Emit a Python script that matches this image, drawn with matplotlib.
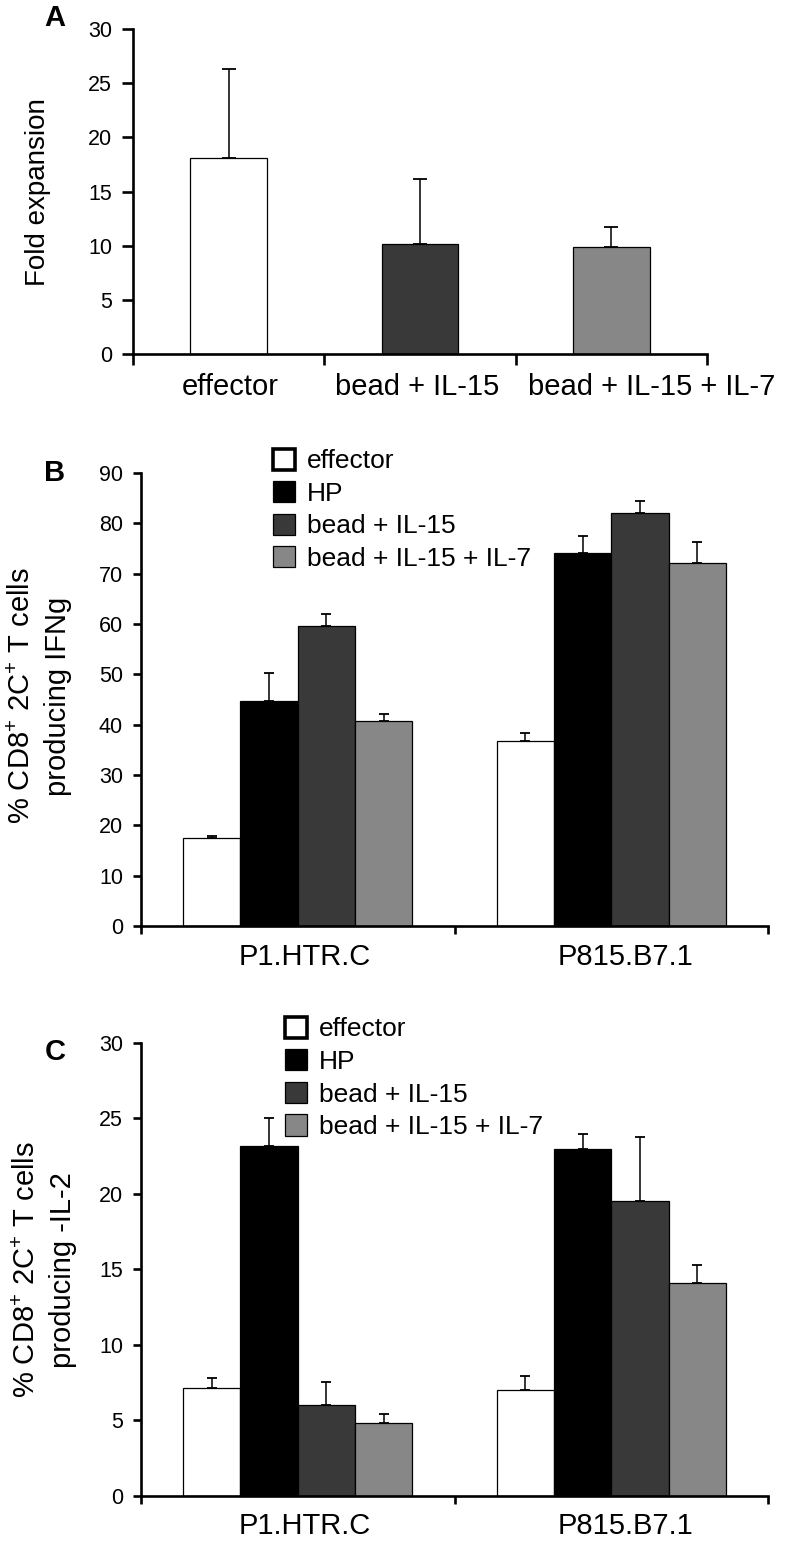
import matplotlib
matplotlib.use("Agg")
import matplotlib.pyplot as plt
import numpy as np

plt.rcParams['font.family'] = ['Liberation Sans', 'DejaVu Sans']
plt.rcParams['mathtext.fontset'] = 'custom'
plt.rcParams['mathtext.rm'] = 'Liberation Sans'
plt.rcParams['mathtext.it'] = 'Liberation Sans:italic'
plt.rcParams['mathtext.bf'] = 'Liberation Sans:bold'

# === DATA ===
fold_groups = ["effector", "bead + IL-15", "bead + IL-15 + IL-7"]
fold_mean = [18.1, 10.2, 9.9]
fold_err = [8.2, 6.0, 1.8]

targets = ["P1.HTR.C", "P815.B7.1"]
conditions = ["effector", "HP", "bead + IL-15", "bead + IL-15 + IL-7"]

# rows = conditions, columns = targets
ifng_mean = [[17.5, 36.8], [44.8, 74.1], [59.7, 82.0], [40.7, 72.2]]
ifng_err = [[0.4, 1.6], [5.5, 3.4], [2.2, 2.5], [1.4, 4.1]]

il2_mean = [[7.1, 7.0], [23.2, 23.0], [6.0, 19.5], [4.8, 14.1]]
il2_err = [[0.7, 0.9], [1.8, 1.0], [1.5, 4.3], [0.6, 1.2]]

# === STYLE ===
COLORS = ["white", "black", "#393939", "#878787"]
W, H = 786, 1542
SPINE_W = 1.9

fig = plt.figure(figsize=(W / 100, H / 100), dpi=100)


def axes_px(left, top, right, bottom):
  return fig.add_axes([left / W, 1 - bottom / H, (right - left) / W, (bottom - top) / H])


def style_axes(ax, ncat, labels, label_pos, tick_len, label_pad):
  for s in ["top", "right"]:
    ax.spines[s].set_visible(False)
  for s in ["left", "bottom"]:
    ax.spines[s].set_linewidth(SPINE_W)
  ax.set_xlim(0, ncat)
  ax.set_xticks(np.arange(ncat + 1))
  ax.set_xticklabels([])
  # category names sit on invisible minor ticks (the source centres them a bit loosely)
  ax.set_xticks(label_pos, minor=True)
  ax.set_xticklabels(labels, minor=True, fontsize=21)
  ax.tick_params(axis="both", which="major", direction="out", length=tick_len,
                 width=SPINE_W, labelsize=15.5, pad=7)
  ax.tick_params(axis="x", which="minor", length=0, pad=label_pad)


# === PANEL A ===
axA = axes_px(133, 29, 707, 354)
xa = np.arange(len(fold_groups)) + 0.5
axA.bar(xa, fold_mean, width=0.4, color=[COLORS[0], COLORS[2], COLORS[3]],
        edgecolor="black", linewidth=0.9, zorder=2)
axA.errorbar(xa, fold_mean, yerr=[np.zeros(len(fold_mean)), fold_err], fmt="none",
             ecolor="black", elinewidth=1.1, capsize=5, capthick=1.3, zorder=3)
axA.set_ylim(0, 30)
axA.set_yticks(np.arange(0, 31, 5))
style_axes(axA, len(fold_groups), fold_groups, [0.507, 1.484, 2.71], 8, 14)
fig.text(38 / W, 1 - 192 / H, "Fold expansion", rotation=90, fontsize=20,
         ha="center", va="center")


# === PANELS B, C ===
def grouped_panel(ax, means, errs, ymax, ystep, legend_xy):
  bw = 0.183
  base = np.arange(len(targets)) + 0.5
  bars = []
  for i, cond in enumerate(conditions):
    pos = base + (i - 1.5) * bw
    b = ax.bar(pos, means[i], width=bw, color=COLORS[i], edgecolor="black",
               linewidth=0.9, label=cond, zorder=2)
    ax.errorbar(pos, means[i], yerr=[np.zeros(len(targets)), errs[i]], fmt="none",
                ecolor="black", elinewidth=1.1, capsize=3.5, capthick=1.3, zorder=3)
    bars.append(b)
  ax.set_ylim(0, ymax)
  ax.set_yticks(np.arange(0, ymax + 1, ystep))
  style_axes(ax, len(targets), targets, [0.523, 1.547], 6, 12)
  leg = ax.legend(handles=bars, loc="upper left", bbox_to_anchor=legend_xy,
                  frameon=False, fontsize=19, handlelength=0.85, handleheight=0.85,
                  handletextpad=0.45, labelspacing=0.3, borderpad=0, borderaxespad=0)
  leg.get_patches()[0].set_linewidth(2.6)
  return ax


axB = axes_px(141, 473, 768, 926)
grouped_panel(axB, ifng_mean, ifng_err, 90, 10, (0.2105, 1.054))
fig.text(40 / W, 1 - 696 / H, "% CD8$^{+}$ 2C$^{+}$ T cells\nproducing IFNg",
         rotation=90, fontsize=21, ha="center", va="center", linespacing=1.35)

axC = axes_px(141, 1043, 768, 1495.5)
grouped_panel(axC, il2_mean, il2_err, 30, 5, (0.2297, 1.058))
fig.text(45 / W, 1 - 1270 / H, "% CD8$^{+}$ 2C$^{+}$ T cells\nproducing -IL-2",
         rotation=90, fontsize=21, ha="center", va="center", linespacing=1.35)

# panel letters
for letter, ypx in [("A", 18), ("B", 473), ("C", 1052)]:
  fig.text(55 / W, 1 - ypx / H, letter, fontsize=21, fontweight="bold",
           ha="center", va="center")

fig.savefig("out.png", dpi=100)
